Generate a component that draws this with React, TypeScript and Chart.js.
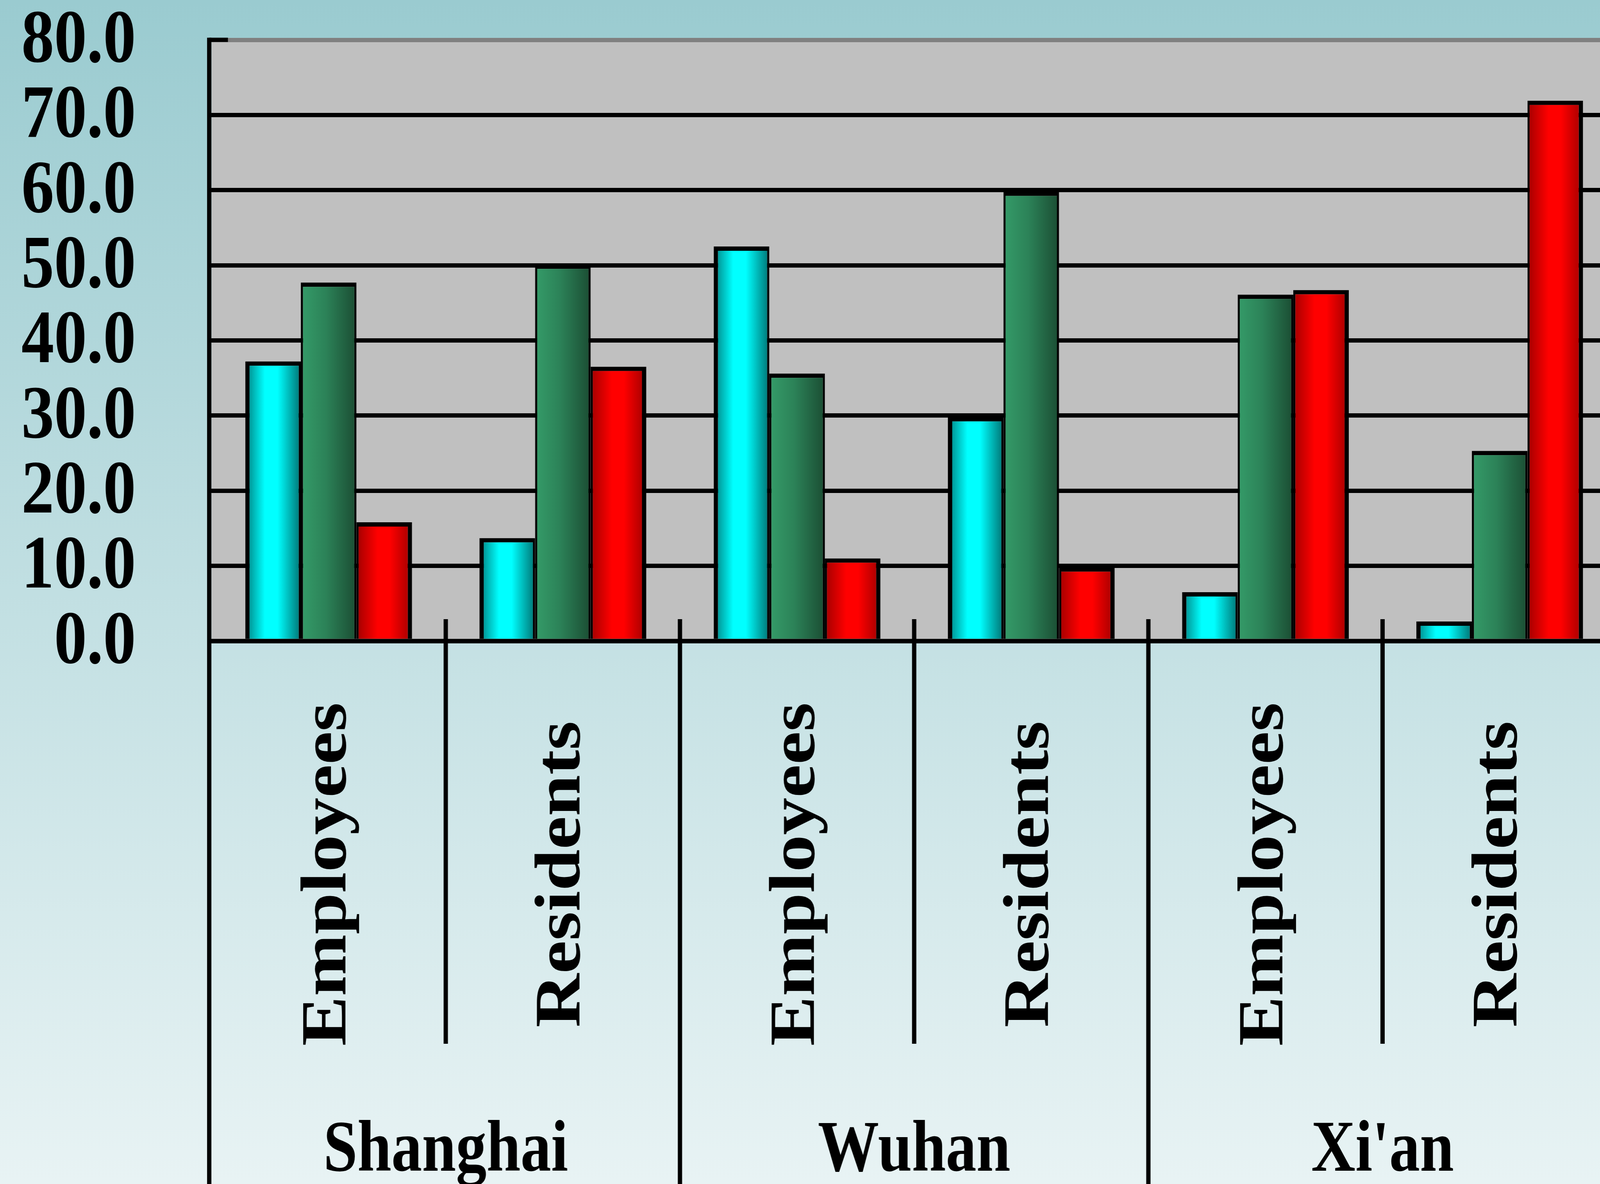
import { useEffect, useRef } from "react";
import { Chart, registerables, Plugin } from "chart.js";

Chart.register(...registerables);

// x categories, grouped by city
const CATEGORIES = ["Employees", "Residents", "Employees", "Residents", "Employees", "Residents"];
const GROUPS = ["Shanghai", "Wuhan", "Xi'an"];

// three unnamed series (no legend in the source)
const SERIES_CYAN = [37.2, 13.7, 52.5, 29.8, 6.5, 2.6];
const SERIES_GREEN = [47.7, 50.1, 35.6, 59.8, 46.1, 25.3];
const SERIES_RED = [15.8, 36.5, 11.0, 9.8, 46.7, 71.9];

const Y_TICKS = [0, 10, 20, 30, 40, 50, 60, 70, 80];

const FONT = '"Liberation Serif", "Times New Roman", serif';
const PLOT_BG = "#c0c0c0";
const LINE_W = 11;
const CAT_PCT = 0.712;

// layout was measured on a 4452px wide page
const REF_W = 4452;
const PAGE_H = 3031;
const AXIS_W = 588.5;
const CAT_W = 651.5;

const CYAN_STOPS: [number, string][] = [
  [0, "#007f7f"],
  [0.35, "#00ffff"],
  [0.58, "#00ffff"],
  [1, "#007373"],
];
const GREEN_STOPS: [number, string][] = [
  [0, "#359c69"],
  [0.45, "#2c8258"],
  [1, "#1b4d33"],
];
const RED_STOPS: [number, string][] = [
  [0, "#a30000"],
  [0.38, "#ff0000"],
  [0.6, "#ff0000"],
  [1, "#a00000"],
];

// horizontal gradient across each bar, placed from the x scale
const barGradient = (stops: [number, string][], k: number) => (c: any) => {
  const chart = c.chart;
  const x = chart.scales?.x;
  if (!chart.chartArea || !x) return stops[1][1];
  const cw = x.width / CATEGORIES.length;
  const group = cw * CAT_PCT;
  const bw = group / 3;
  const left = x.getPixelForValue(c.dataIndex) - group / 2 + k * bw;
  const g = chart.ctx.createLinearGradient(left, 0, left + bw, 0);
  stops.forEach(([o, col]) => g.addColorStop(o, col));
  return g;
};

const makeDecor = (sx: number): Plugin<"bar"> => ({
  id: "decor",
  beforeDraw(chart) {
    const { ctx, chartArea: a } = chart;
    ctx.save();
    ctx.fillStyle = PLOT_BG;
    ctx.fillRect(a.left, a.top, a.right - a.left, a.bottom - a.top);
    ctx.restore();
  },
  afterDatasetsDraw(chart) {
    const { ctx, chartArea: a, scales } = chart;
    const x = scales.x;
    const y = scales.y;
    const H = chart.height;
    const axisX = a.left - 6.5 * sx;
    const line = (x1: number, y1: number, x2: number, y2: number) => {
      ctx.beginPath();
      ctx.moveTo(x1, y1);
      ctx.lineTo(x2, y2);
      ctx.stroke();
    };

    ctx.save();
    ctx.strokeStyle = "#000";
    ctx.lineWidth = LINE_W;
    ctx.lineCap = "butt";

    line(axisX, a.bottom, a.right, a.bottom);
    line(axisX, a.top - LINE_W / 2, axisX, H);
    line(axisX, a.top, axisX + 52 * sx, a.top);

    // category / group separators
    for (let i = 0; i < CATEGORIES.length - 1; i++) {
      const bx = (x.getPixelForValue(i) + x.getPixelForValue(i + 1)) / 2;
      const bottom = i % 2 === 0 ? a.bottom + 1031 : H;
      line(bx, a.bottom - 56, bx, bottom);
    }

    ctx.fillStyle = "#000";

    // y tick labels
    ctx.font = `bold 182px ${FONT}`;
    ctx.textAlign = "right";
    ctx.textBaseline = "middle";
    Y_TICKS.forEach((v) => {
      ctx.save();
      ctx.translate(378 * sx, y.getPixelForValue(v) + 6);
      ctx.scale(sx, 1.06);
      ctx.fillText(v.toFixed(1), 0, 0);
      ctx.restore();
    });

    // rotated category labels
    ctx.font = `bold 180px ${FONT}`;
    ctx.textAlign = "center";
    CATEGORIES.forEach((label, i) => {
      ctx.save();
      ctx.translate(x.getPixelForValue(i), a.bottom + 597);
      ctx.scale(sx, 1.06);
      ctx.rotate(-Math.PI / 2);
      ctx.fillText(label, 0, 0);
      ctx.restore();
    });

    // city labels
    ctx.font = `bold 170px ${FONT}`;
    ctx.textBaseline = "alphabetic";
    GROUPS.forEach((g, j) => {
      const cx = (x.getPixelForValue(j * 2) + x.getPixelForValue(j * 2 + 1)) / 2;
      ctx.save();
      ctx.translate(cx, a.bottom + 1356);
      ctx.scale(sx, 1.1);
      ctx.fillText(g, 0, 0);
      ctx.restore();
    });

    ctx.restore();
  },
});

export default function App() {
  const canvasRef = useRef<HTMLCanvasElement>(null);
  const pageW = typeof window !== "undefined" ? window.innerWidth || REF_W : REF_W;
  const sx = pageW / REF_W;

  useEffect(() => {
    document.body.style.margin = "0";
    if (!canvasRef.current) return;

    const chart = new Chart(canvasRef.current, {
      type: "bar",
      data: {
        labels: CATEGORIES,
        datasets: [
          {
            label: "Series 1",
            data: SERIES_CYAN,
            backgroundColor: barGradient(CYAN_STOPS, 0),
            borderColor: "#000",
            borderWidth: { top: 11, left: 11, right: 5.5, bottom: 0 },
          },
          {
            label: "Series 2",
            data: SERIES_GREEN,
            backgroundColor: barGradient(GREEN_STOPS, 1),
            borderColor: "#000",
            borderWidth: { top: 11, left: 5.5, right: 5.5, bottom: 0 },
          },
          {
            label: "Series 3",
            data: SERIES_RED,
            backgroundColor: barGradient(RED_STOPS, 2),
            borderColor: "#000",
            borderWidth: { top: 11, left: 5.5, right: 11, bottom: 0 },
          },
        ],
      },
      options: {
        animation: false,
        responsive: true,
        maintainAspectRatio: false,
        devicePixelRatio: 1,
        layout: { padding: { top: 102, left: 0, right: 0, bottom: 0 } },
        datasets: {
          bar: { categoryPercentage: CAT_PCT, barPercentage: 1 },
        },
        plugins: {
          legend: { display: false },
          tooltip: { enabled: false },
        },
        scales: {
          x: {
            grid: { display: false },
            border: { display: false },
            ticks: { display: false },
            afterFit: (s: any) => {
              s.height = 1390;
            },
          },
          y: {
            min: 0,
            max: 80,
            ticks: { display: false, stepSize: 10 },
            border: { display: false },
            grid: {
              drawTicks: false,
              lineWidth: LINE_W,
              color: (c: any) => (c.tick && c.tick.value === 80 ? "#808080" : "#000"),
            },
            afterFit: (s: any) => {
              s.width = AXIS_W * sx;
            },
          },
        },
      },
      plugins: [makeDecor(sx)],
    });

    return () => chart.destroy();
  }, [sx]);

  return (
    <div
      style={{
        width: pageW,
        height: PAGE_H,
        overflow: "hidden",
        background: "linear-gradient(#9acbd0, #e8f3f4)",
      }}
    >
      <div style={{ position: "relative", width: (AXIS_W + CAT_W * CATEGORIES.length) * sx, height: PAGE_H }}>
        <canvas ref={canvasRef} />
      </div>
    </div>
  );
}
